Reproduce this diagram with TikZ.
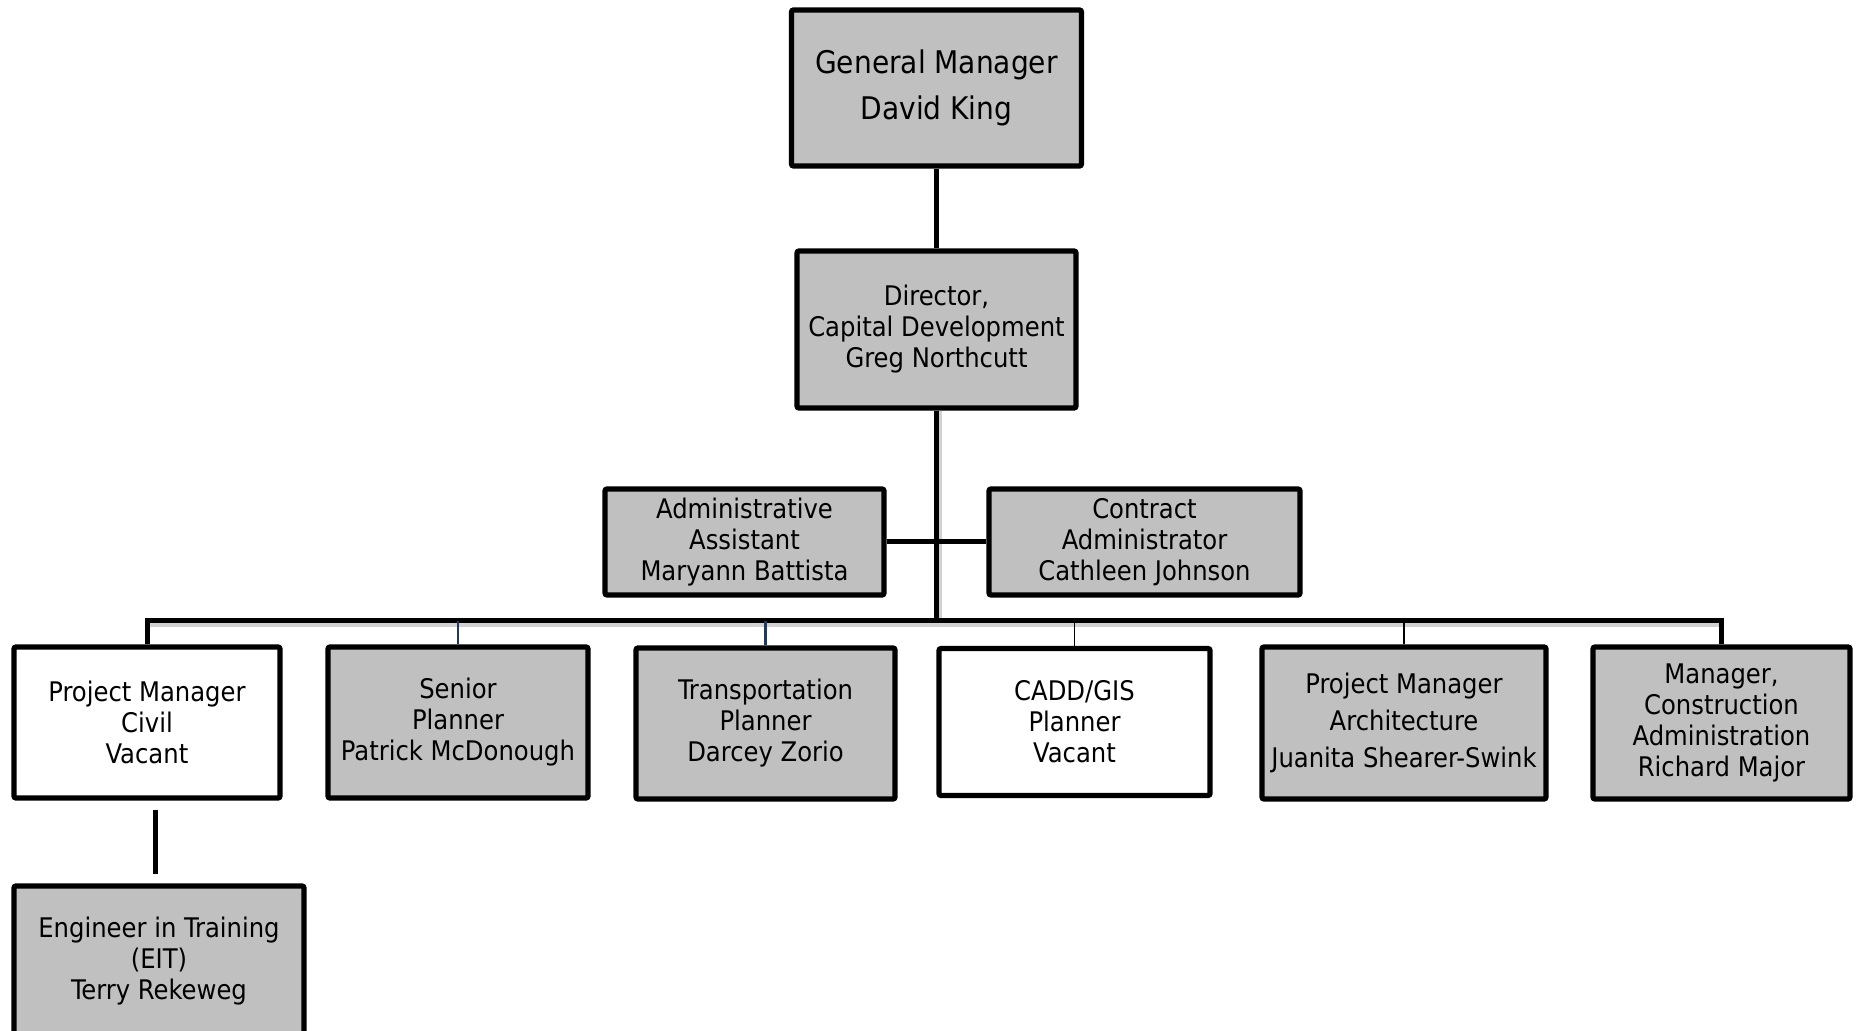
\documentclass[tikz,border=0pt]{standalone}
\usepackage{fontspec}
\setmainfont{DejaVu Sans Condensed}
\definecolor{boxgray}{RGB}{192,192,192}
\definecolor{linkblue}{RGB}{31,56,100}
\begin{document}
\begin{tikzpicture}[x=0.5pt,y=-0.5pt,
  box/.style={draw, line width=2.6pt, fill=boxgray, rounded corners=1pt, inner sep=0pt,
    align=center, font=\fontsize{13.5}{15.5}\selectfont},
  vacant/.style={box, fill=white},
  link/.style={line width=2.5pt},
  bluelink/.style={line width=1.4pt, linkblue},
  thinlink/.style={line width=0.7pt},
  busshade/.style={line width=2.4pt, black!18}]
\clip (0,0) rectangle (1858,1031);
% top
\node[box, minimum width=145pt, minimum height=78pt, font=\fontsize{15.6}{23}\selectfont] (gm) at (936.5,88) {General Manager\\David King};
\node[box, minimum width=139.5pt, minimum height=78.5pt] (dir) at (936.5,329.5) {Director,\\Capital Development\\Greg Northcutt};
\node[box, minimum width=139.5pt, minimum height=53pt] (admin) at (744.5,542) {Administrative\\Assistant\\Maryann Battista};
\node[box, minimum width=155.5pt, minimum height=53pt] (contract) at (1144.5,542) {Contract\\Administrator\\Cathleen Johnson};
% row
\node[vacant, minimum width=133pt, minimum height=75.5pt] (pmcivil) at (147,722.5) {Project Manager\\Civil\\Vacant};
\node[box, minimum width=130pt, minimum height=75.5pt] (senior) at (458,722.5) {Senior\\Planner\\Patrick McDonough};
\node[box, minimum width=129.5pt, minimum height=75.5pt] (transp) at (765.5,723.5) {Transportation\\Planner\\Darcey Zorio};
\node[vacant, minimum width=135.5pt, minimum height=73.5pt] (cadd) at (1074.5,722) {CADD/GIS\\Planner\\Vacant};
\node[box, minimum width=142pt, minimum height=76pt, font=\fontsize{13.5}{18.5}\selectfont] (pmarch) at (1404,723) {Project Manager\\Architecture\\Juanita Shearer-Swink};
\node[box, minimum width=128.5pt, minimum height=76pt] (mgrca) at (1721.5,723) {Manager,\\Construction\\Administration\\Richard Major};
\node[box, minimum width=145pt, minimum height=75pt] (eit) at (159,961) {Engineer in Training\\(EIT)\\Terry Rekeweg};
%
\coordinate (bus) at (936.5,621);
\coordinate (eittop) at ([xshift=-2pt]eit.north);
\draw[busshade, transform canvas={yshift=-2pt}] (pmcivil.north |- bus) -- (mgrca.north |- bus);
\draw[busshade, transform canvas={xshift=1.5pt}] (dir.south) -- (bus);
\draw[link] (gm) -- (dir);
\draw[link] (dir.south) -- (bus);
\draw[link] (admin.east) -- (contract.west);
\draw[link] (pmcivil.north) |- (bus) -| (mgrca.north);
\draw[bluelink] (senior.north) -- (senior.north |- bus);
\draw[bluelink] (transp.north) -- (transp.north |- bus);
\draw[thinlink] (cadd.north) -- (cadd.north |- bus);
\draw[thinlink] (pmarch.north) -- (pmarch.north |- bus);
\draw[link, shorten <=4.5pt, shorten >=4.5pt] (eittop |- pmcivil.south) -- (eittop);
%
\end{tikzpicture}
\end{document}
